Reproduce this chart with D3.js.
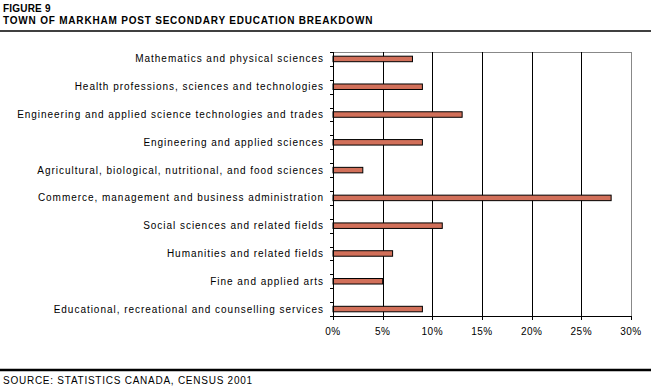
<!DOCTYPE html>
<html><head><meta charset="utf-8">
<script src="https://cdn.jsdelivr.net/npm/d3@7"></script>
<style>body{margin:0;background:#fff}svg{display:block}text{font-family:"Liberation Sans",Arial,sans-serif}</style>
</head><body><svg id="c" width="651" height="387"></svg>
<script>
const categories = [
  "Mathematics and physical sciences",
  "Health professions, sciences and technologies",
  "Engineering and applied science technologies and trades",
  "Engineering and applied sciences",
  "Agricultural, biological, nutritional, and food sciences",
  "Commerce, management and business administration",
  "Social sciences and related fields",
  "Humanities and related fields",
  "Fine and applied arts",
  "Educational, recreational and counselling services"
];
const values = [8, 9, 13, 9, 3, 28, 11, 6, 5, 9];
const xTicks = [0, 5, 10, 15, 20, 25, 30];
const figureLabel = "FIGURE 9";
const title = "TOWN OF MARKHAM POST SECONDARY EDUCATION BREAKDOWN";
const source = "SOURCE: STATISTICS CANADA, CENSUS 2001";

const svg = d3.select("#c");
const L = 333, R = 631, T = 52, B = 316;
const x = d3.scaleLinear().domain([0, 30]).range([L, R]);
const slots = d3.range(categories.length * 2 - 1);
const y = d3.scaleBand().domain(slots).range([T, B]).padding(0);
const slotOf = i => i * 2;
const bh = 5.5;

// header
svg.append("text").attr("x", 3).attr("y", 12).attr("font-size", 10).attr("font-weight", "bold").attr("letter-spacing", 0.2).text(figureLabel);
svg.append("text").attr("x", 3).attr("y", 24).attr("font-size", 10).attr("font-weight", "bold").attr("letter-spacing", 0.8).text(title);
svg.append("line").attr("x1", 0).attr("x2", 651).attr("y1", 31).attr("y2", 31).attr("stroke", "#000").attr("stroke-width", 1.5);

// plot border (gray)
svg.append("line").attr("x1", L).attr("x2", R).attr("y1", T + 0.5).attr("y2", T + 0.5).attr("stroke", "#888");
svg.append("line").attr("x1", R + 0.5).attr("x2", R + 0.5).attr("y1", T).attr("y2", B).attr("stroke", "#888");

// gridlines
svg.append("g").selectAll("line").data(xTicks.slice(1, -1)).join("line")
  .attr("x1", d => Math.round(x(d)) + 0.5).attr("x2", d => Math.round(x(d)) + 0.5)
  .attr("y1", T).attr("y2", B).attr("stroke", "#000");

// bars
svg.append("g").selectAll("rect").data(values).join("rect")
  .attr("x", x(0)).attr("width", d => x(d) - x(0))
  .attr("y", (d, i) => y(slotOf(i)) + y.bandwidth() / 2 - bh / 2)
  .attr("height", bh)
  .attr("fill", "#d2705a").attr("stroke", "#000").attr("stroke-width", 1);

// y axis
const yAxisG = svg.append("g");
yAxisG.append("line").attr("x1", L + 0.5).attr("x2", L + 0.5).attr("y1", T).attr("y2", B).attr("stroke", "#000");
const tickYs = slots.map(s => y(s)).concat([B]);
yAxisG.selectAll("line.t").data(tickYs).join("line").attr("class", "t")
  .attr("x1", L - 3).attr("x2", L + 1).attr("y1", d => Math.round(d) + 0.5).attr("y2", d => Math.round(d) + 0.5).attr("stroke", "#000");
yAxisG.selectAll("text").data(categories).join("text")
  .attr("x", 324).attr("y", (d, i) => y(slotOf(i)) + y.bandwidth() / 2 + 3.5)
  .attr("text-anchor", "end").attr("font-size", 10).attr("letter-spacing", 0.97).text(d => d);

// x axis
const xAxisG = svg.append("g");
xAxisG.append("line").attr("x1", L).attr("x2", R + 1).attr("y1", B + 0.5).attr("y2", B + 0.5).attr("stroke", "#000");
xAxisG.selectAll("line.t").data(xTicks).join("line").attr("class", "t")
  .attr("x1", d => Math.round(x(d)) + 0.5).attr("x2", d => Math.round(x(d)) + 0.5)
  .attr("y1", B).attr("y2", B + 4).attr("stroke", "#000");
xAxisG.selectAll("text").data(xTicks).join("text")
  .attr("x", d => x(d)).attr("y", 335).attr("text-anchor", "middle")
  .attr("font-size", 10).attr("letter-spacing", 0.5).text(d => d + "%");

// footer
svg.append("line").attr("x1", 0).attr("x2", 651).attr("y1", 370).attr("y2", 370).attr("stroke", "#000").attr("stroke-width", 2.5);
svg.append("text").attr("x", 3).attr("y", 384).attr("font-size", 10).attr("letter-spacing", 0.75).text(source);
</script></body></html>
